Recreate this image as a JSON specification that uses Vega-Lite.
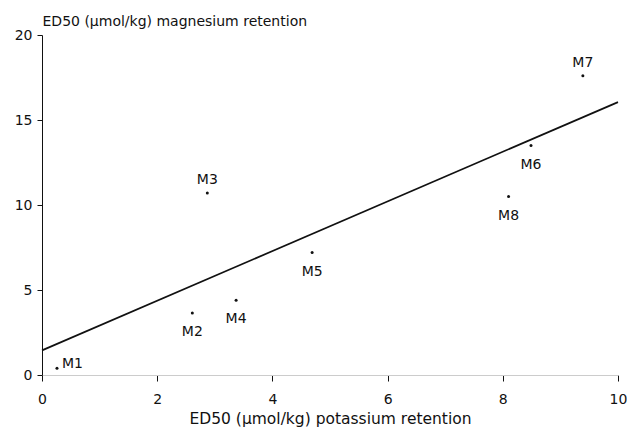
{
  "$schema": "https://vega.github.io/schema/vega-lite/v6.json",
  "width": 576,
  "height": 340,
  "autosize": {"type": "none"},
  "padding": {"left": 42, "top": 35, "right": 9, "bottom": 53},
  "background": "white",
  "config": {
    "view": {"stroke": null},
    "font": "DejaVu Sans",
    "axis": {"grid": false, "labelFont": "DejaVu Sans", "titleFont": "DejaVu Sans", "labelFontSize": 14, "titleFontSize": 14, "titleFontWeight": "normal", "labelColor": "#111", "titleColor": "#111", "tickColor": "#111", "domainColor": "#111"}
  },
  "datasets": {
    "pts": [
      {"name": "M1", "k": 0.26, "mg": 0.4},
      {"name": "M2", "k": 2.61, "mg": 3.65},
      {"name": "M3", "k": 2.87, "mg": 10.7},
      {"name": "M4", "k": 3.37, "mg": 4.4},
      {"name": "M5", "k": 4.69, "mg": 7.2},
      {"name": "M6", "k": 8.49, "mg": 13.5},
      {"name": "M7", "k": 9.39, "mg": 17.6},
      {"name": "M8", "k": 8.1, "mg": 10.5}
    ],
    "fit": [
      {"k": 0, "mg": 1.45},
      {"k": 10, "mg": 16.05}
    ]
  },
  "encoding": {
    "x": {"field": "k", "type": "quantitative", "scale": {"domain": [0, 10], "nice": false}, "axis": {"values": [0, 2, 4, 6, 8, 10], "title": "ED50 (µmol/kg) potassium retention", "titleFontSize": 15.5, "tickSize": 6, "labelPadding": 11, "titlePadding": 5, "domainColor": "#ccc", "labelFlush": false}},
    "y": {"field": "mg", "type": "quantitative", "scale": {"domain": [0, 20], "nice": false}, "axis": {"values": [0, 5, 10, 15, 20], "title": "ED50 (µmol/kg) magnesium retention", "tickSize": 5, "labelPadding": 5, "titleAngle": 0, "titleX": 0, "titleY": -10, "titleAlign": "left", "titleBaseline": "alphabetic", "labelFlush": false}}
  },
  "layer": [
    {"data": {"name": "fit"}, "mark": {"type": "line", "color": "#111", "strokeWidth": 1.7}},
    {"data": {"name": "pts"}, "mark": {"type": "point", "filled": true, "color": "#111", "size": 9, "opacity": 1}},
    {"data": {"name": "pts"}, "transform": [{"filter": {"field": "name", "oneOf": ["M2", "M4", "M5", "M6", "M8"]}}], "mark": {"type": "text", "dy": 19, "align": "center", "baseline": "middle", "fontSize": 14, "color": "#111"}, "encoding": {"text": {"field": "name"}}},
    {"data": {"name": "pts"}, "transform": [{"filter": {"field": "name", "oneOf": ["M3", "M7"]}}], "mark": {"type": "text", "dy": -13, "align": "center", "baseline": "middle", "fontSize": 14, "color": "#111"}, "encoding": {"text": {"field": "name"}}},
    {"data": {"name": "pts"}, "transform": [{"filter": {"field": "name", "equal": "M1"}}], "mark": {"type": "text", "dx": 5, "dy": -4, "align": "left", "baseline": "middle", "fontSize": 14, "color": "#111"}, "encoding": {"text": {"field": "name"}}}
  ]
}
